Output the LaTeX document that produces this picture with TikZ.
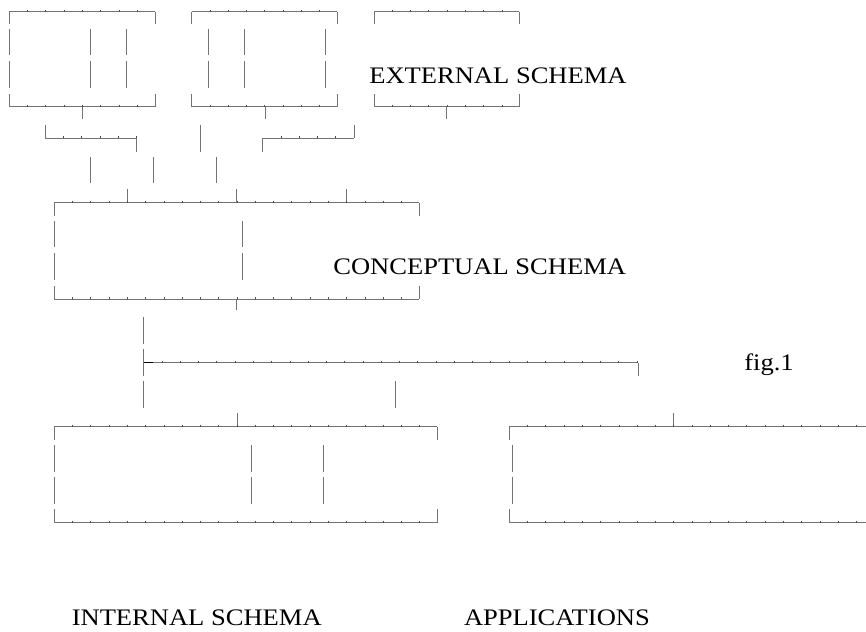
\documentclass[tikz,border=0pt]{standalone}
\usepackage{fontspec}
\usepackage{graphicx}
\setmainfont{Liberation Serif}
\tikzset{
  ln/.style={draw=black!55, line width=1pt},
  tk/.style={draw=black!70, line width=0.7pt},
  lbl/.style={anchor=base west, inner sep=0pt, outer sep=0pt, text=black,
              font=\fontsize{23.7}{28}\selectfont}
}
\newcommand{\hseg}[3]{%
  \draw[ln] (#1,#3) -- (#2,#3);
  \pgfmathtruncatemacro{\nn}{int((#2-#1)/18.27)}%
  \foreach \k in {1,...,\nn}{\draw[tk] ({#1+\k*18.27},#3) -- ++(0,-1.8);}%
}
\newcommand{\vseg}[3]{\draw[ln] (#1,#2) -- (#1,#3);}
\newcommand{\wide}[1]{\scalebox{1.12}[1]{#1}}
\begin{document}
\begin{tikzpicture}[x=1pt,y=-1pt]
\useasboundingbox[fill=white] (0,0) rectangle (866,631);
% ---------------- external box 1
\hseg{9.3}{155}{11.7}
\vseg{9.3}{11.7}{24} \vseg{155}{11.7}{24}
\foreach \x in {9.3,90.7,126.7}{\vseg{\x}{29}{55} \vseg{\x}{61}{88}}
\vseg{9.3}{94}{107} \vseg{155}{94}{107}
\hseg{9.3}{155}{107}
\vseg{82.7}{107}{119}
% ---------------- external box 2
\hseg{191.7}{337.3}{11.7}
\vseg{191.7}{11.7}{24} \vseg{337.3}{11.7}{24}
\foreach \x in {208.3,244,325}{\vseg{\x}{29}{55} \vseg{\x}{61}{88}}
\vseg{191.7}{94}{107} \vseg{337.3}{94}{107}
\hseg{191.7}{337.3}{107}
\vseg{265}{107}{119}
% ---------------- external box 3
\hseg{374}{519.3}{11.7}
\vseg{374}{11.7}{24} \vseg{519.3}{11.7}{24}
\vseg{374}{94}{107} \vseg{519.3}{94}{107}
\hseg{374}{519.3}{107}
\vseg{446.7}{107}{119}
\node[lbl] (ext) at (369.3,83.3) {\wide{EXTERNAL SCHEMA}};
% ---------------- connectors
\vseg{45.3}{125}{138.3}
\hseg{45.3}{136.7}{138.3}
\vseg{136.7}{138.3}{151.7}
\vseg{200}{125}{151.7}
\vseg{354}{125}{138.3}
\hseg{262.7}{354}{138.3}
\vseg{262.7}{138.3}{151.7}
\foreach \x in {90,153.3,216.7}{\vseg{\x}{157.3}{183.3}}
\foreach \x in {127.3,236.7,346.7}{\vseg{\x}{189}{202.7}}
% ---------------- conceptual box
\hseg{54.3}{419.3}{202.7}
\vseg{54.3}{202.7}{216} \vseg{419.3}{202.7}{216}
\foreach \x in {54.3,242.7}{\vseg{\x}{221}{246.7} \vseg{\x}{253.3}{280}}
\vseg{54.3}{285.7}{299} \vseg{419.3}{285.7}{299}
\hseg{54.3}{419.3}{299}
\vseg{236.7}{299}{310}
\node[lbl] (con) at (333.3,274) {\wide{CONCEPTUAL SCHEMA}};
% ---------------- middle connector
\vseg{143.7}{317.3}{343.5}
\vseg{143.7}{349.3}{375.7}
\hseg{143.7}{638}{362.7}
\draw[draw=black, line width=1.2pt] (143.7,362.7) -- (152.7,362.7);
\vseg{638}{362.7}{376}
\vseg{143.7}{381}{407.5}
\vseg{395.5}{381}{407.5}
\node[lbl] (fig) at (744.3,370.7) {\wide{fig.1}};
\vseg{237}{413.3}{426.7}
\vseg{673.3}{413.3}{426.7}
% ---------------- internal box
\hseg{54.3}{437.3}{426.7}
\vseg{54.3}{426.7}{440} \vseg{437.3}{426.7}{440}
\foreach \x in {54.3,251.7,323.3}{\vseg{\x}{445}{471.7} \vseg{\x}{476.7}{504}}
\vseg{54.3}{509}{522.7} \vseg{437.3}{509}{522.7}
\hseg{54.3}{437.3}{522.7}
% ---------------- applications box
\hseg{509.3}{870}{426.7}
\vseg{509.3}{426.7}{440}
\vseg{512.3}{445}{471.7} \vseg{512.3}{476.7}{504}
\vseg{509.3}{509}{522.7}
\hseg{509.3}{870}{522.7}
% ---------------- labels
\node[lbl, anchor=base east] (int) at (321.7,625) {\wide{INTERNAL SCHEMA}};
\node[lbl] (app) at (464,625) {\wide{APPLICATIONS}};
\end{tikzpicture}
\end{document}
